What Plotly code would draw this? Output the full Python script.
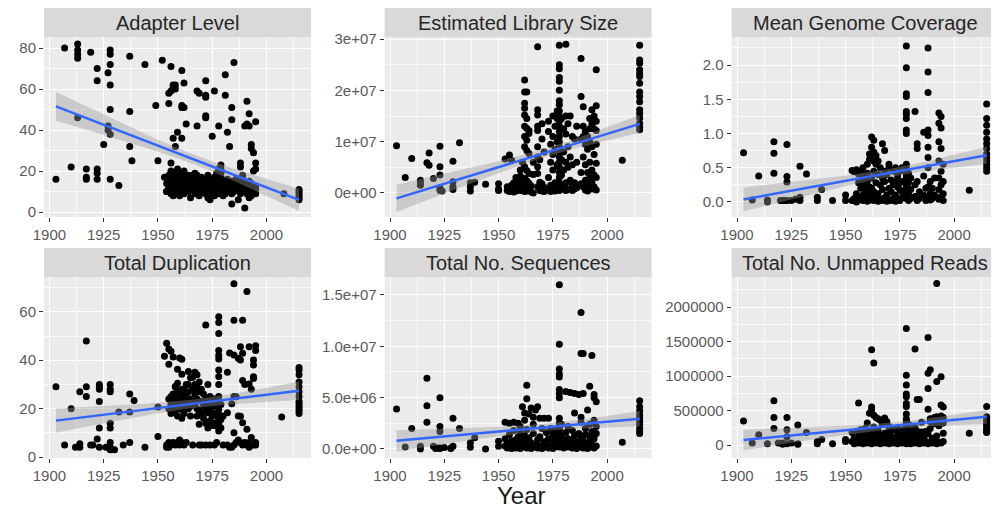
import numpy as np
import plotly.graph_objects as go

# ---------------- data ----------------
ADAPTER_YEAR = [
    1903, 1907, 1910, 1913, 1913, 1913, 1913, 1913,
    1917, 1917, 1917, 1919, 1922, 1922, 1922, 1922, 1922,
    1925, 1927, 1927, 1927, 1928, 1928, 1928, 1928, 1928, 1928, 1928,
    1932, 1937, 1937, 1937, 1938, 1944, 1949, 1950,
    1952, 1953, 1954, 1955, 1955, 1956, 1956, 1956, 1957, 1957, 1958, 1958,
    1957, 1958, 1959, 1961, 1961, 1962, 1961, 1962, 1961, 1963,
    1968, 1969, 1968, 1972, 1972, 1972, 1972, 1972, 1975, 1976, 1978,
    1979, 1979, 1979, 1981, 1981, 1982, 1983, 1985, 1984, 1984, 1988,
    1990, 1990, 1991, 1992, 1991, 1992, 1993, 1993, 1994, 1995, 1995, 1995, 1994,
    1989, 1987, 1984, 1992, 2008, 2015, 2015, 2015, 2015, 2015, 2015,
    1954, 1954, 1954, 1955, 1955, 1955, 1956, 1956, 1956, 1956,
    1957, 1957, 1957, 1957, 1958, 1958, 1958, 1958,
    1959, 1959, 1959, 1959, 1959, 1960, 1960, 1960, 1960, 1960, 1960,
    1961, 1961, 1961, 1961, 1962, 1962, 1962, 1962, 1963, 1963, 1963,
    1964, 1964, 1964, 1964, 1965, 1965, 1965, 1966, 1966, 1966,
    1967, 1967, 1967, 1967, 1968, 1968, 1968, 1968, 1969, 1969, 1969,
    1970, 1970, 1970, 1971, 1971, 1971, 1972, 1972, 1972,
    1973, 1973, 1973, 1973, 1974, 1974, 1974, 1974, 1975, 1975, 1975,
    1976, 1976, 1976, 1976, 1977, 1977, 1977, 1977,
    1978, 1978, 1978, 1978, 1978, 1978, 1979, 1979, 1979, 1979,
    1980, 1980, 1980, 1981, 1981, 1981, 1982, 1982, 1982, 1983, 1983,
    1984, 1984, 1984, 1985, 1985, 1986, 1986, 1987, 1987,
    1988, 1988, 1988, 1989, 1989, 1989, 1990, 1990, 1991, 1991,
    1992, 1992, 1992, 1993, 1993, 1993, 1994, 1994, 1995, 1995, 1995,
]
ADAPTER_VALUE = [
    16, 80, 22, 82, 79, 77, 75, 46,
    21, 17, 16, 78, 70, 64, 21, 19, 16,
    33, 68, 42, 40, 79, 77, 72, 62, 50, 38, 16,
    13, 76, 49, 32, 25, 72, 52, 25,
    74, 17, 10, 53, 58, 59, 71, 24, 62, 61, 62, 60,
    36, 32, 39, 51, 52, 51, 69, 63, 36, 43,
    59, 58, 42, 64, 57, 56, 47, 46, 37, 59, 42,
    23, 21, 19, 67, 57, 39, 32, 73, 51, 45, 24,
    2, 42, 43, 42, 54, 48, 33, 31, 29, 44, 24, 21, 20,
    18, 6, 4, 7, 9, 11, 10, 9, 8, 7, 6,
    17, 14, 10, 15, 12, 18, 16, 13, 9, 20,
    11, 15, 17, 8, 19, 14, 12, 16,
    13, 9, 18, 21, 15, 16, 14, 11, 19, 8, 17,
    15, 12, 18, 10, 17, 13, 20, 9, 14, 16, 11,
    12, 18, 15, 10, 16, 13, 7, 15, 11, 18,
    19, 14, 12, 9, 16, 13, 10, 18, 15, 12, 8,
    14, 17, 11, 13, 10, 16, 15, 12, 9,
    14, 11, 18, 7, 13, 16, 10, 6, 12, 15, 9,
    14, 11, 17, 8, 16, 13, 10, 19,
    15, 12, 18, 9, 21, 14, 13, 16, 10, 17,
    14, 11, 8, 12, 15, 9, 13, 10, 16, 11, 14,
    12, 9, 15, 10, 13, 12, 16, 11, 14,
    13, 9, 22, 12, 10, 16, 11, 14, 13, 9,
    12, 10, 15, 11, 14, 8, 10, 13, 12, 9, 11,
]

# Estimated Library Size (millions)
LIBRARY_YEAR = [
    1903, 1907, 1910, 1914, 1914, 1914, 1917, 1918, 1918, 1920,
    1923, 1923, 1923, 1923, 1923, 1924, 1929, 1929, 1929, 1929, 1932,
    1937, 1937, 1937, 1939, 1944, 1950, 1950, 1950, 1953, 1955, 1956,
    1962, 1962, 1962, 1962, 1962, 1962, 1962, 1962, 1962,
    1963, 1963, 1963, 1963, 1963, 1963, 1964, 1964, 1964, 1964,
    1954, 1954, 1955, 1955, 1956, 1956, 1957, 1957, 1957, 1958, 1958, 1958,
    1959, 1959, 1959, 1960, 1960, 1960, 1960, 1961, 1961, 1961,
    1962, 1962, 1962, 1963, 1963, 1963, 1964, 1964, 1965, 1965, 1966, 1966, 1966,
    1968, 1968, 1968, 1968, 1968, 1968, 1968, 1968, 1968, 1968,
    1969, 1969, 1969, 1969, 1970, 1970, 1970, 1970, 1971, 1971, 1971,
    1973, 1973, 1973, 1973, 1974, 1974, 1974, 1974,
    1975, 1975, 1975, 1975, 1975, 1976, 1976, 1976, 1976,
    1977, 1977, 1977, 1977, 1977,
    1978, 1978, 1978, 1978, 1978, 1978, 1978, 1978, 1978, 1978, 1978, 1978, 1978,
    1978, 1978, 1978, 1978, 1978, 1978, 1978, 1978, 1978, 1978, 1978, 1978,
    1979, 1979, 1979, 1979, 1980, 1980, 1980, 1980,
    1981, 1981, 1981, 1981, 1981, 1981, 1982, 1982, 1982, 1982,
    1983, 1983, 1983, 1984, 1984, 1984, 1984, 1985, 1985, 1985, 1986, 1986, 1986,
    1988, 1988, 1988, 1988, 1988, 1989, 1989, 1989, 1989, 1989,
    1990, 1990, 1990, 1990, 1990, 1991, 1991, 1991, 1991, 1991,
    1992, 1992, 1992, 1992, 1992, 1992, 1993, 1993, 1993, 1993, 1993, 1993, 1993,
    1994, 1994, 1994, 1994, 1994, 1995, 1995, 1995, 1995, 1995, 1995, 1995, 1995,
    2007, 2015, 2015, 2015, 2015, 2015, 2015, 2015, 2015,
    2015, 2015, 2015, 2015, 2015, 2015, 2015, 2015,
]
LIBRARY_VALUE = [
    9.2, 3.0, 6.7, 2.5, 2.0, 1.5, 5.9, 7.8, 5.4, 2.8,
    9.1, 5.1, 3.5, 1.0, 0.5, 0.4, 6.2, 2.2, 1.2, 0.7, 9.8,
    2.0, 1.2, 0.4, 2.1, 1.7, 1.8, 0.8, 0.5, 6.6, 7.4, 6.4,
    22.0, 19.7, 17.5, 16.5, 15.2, 13.0, 11.0, 9.0, 5.1,
    19.7, 14.5, 12.6, 10.3, 8.3, 4.4, 12.2, 11.6, 7.7, 3.8,
    1.2, 0.5, 0.8, 0.3, 1.5, 0.6, 0.9, 0.2, 2.0, 1.2, 0.4, 3.0,
    0.7, 1.8, 2.6, 0.5, 1.3, 3.3, 4.5, 0.9, 2.2, 6.0,
    0.3, 1.6, 2.8, 1.0, 0.4, 2.4, 0.6, 1.9, 0.2, 1.4, 0.0, 3.6, 6.0,
    28.5, 16.2, 15.2, 13.0, 12.2, 9.0, 7.0, 5.1, 3.8, 1.2,
    2.1, 0.8, 0.5, 6.5, 13.5, 10.5, 0.4, 1.8, 1.1, 0.3, 8.0,
    14.0, 12.0, 3.0, 0.6, 9.5, 6.0, 1.5, 0.3,
    15.0, 11.0, 7.5, 4.5, 1.0, 13.0, 8.5, 2.0, 0.4,
    16.0, 14.5, 10.0, 5.5, 1.2,
    28.8, 25.0, 24.2, 22.5, 21.8, 20.0, 18.0, 17.2, 16.0, 15.0, 14.0, 13.0, 12.0,
    11.0, 10.0, 9.0, 8.0, 7.0, 6.0, 5.0, 4.0, 3.0, 2.0, 1.0, 0.5,
    14.5, 6.5, 3.5, 0.8, 12.5, 8.0, 4.5, 1.5,
    29.0, 15.0, 11.5, 6.0, 2.0, 0.5, 13.5, 9.0, 5.0, 0.7,
    15.0, 7.0, 2.5, 11.0, 5.5, 1.5, 0.5, 10.5, 2.0, 0.8, 13.0, 6.0, 1.0,
    26.2, 18.8, 10.5, 4.0, 1.8, 16.8, 13.0, 11.0, 7.0, 1.2,
    12.0, 9.5, 5.5, 2.5, 0.6, 11.0, 8.5, 4.0, 1.8, 0.4,
    14.5, 12.5, 10.0, 6.0, 3.0, 1.0, 16.2, 13.5, 12.6, 9.0, 4.5, 2.0, 0.8,
    15.0, 12.5, 7.5, 3.5, 1.2, 24.0, 17.0, 14.0, 12.2, 9.5, 5.8, 3.0, 0.6,
    6.4, 28.8, 25.9, 25.3, 24.0, 23.3, 22.7, 21.4, 19.7,
    18.8, 17.8, 16.2, 15.5, 14.6, 13.6, 12.9, 12.3,
]

COVERAGE_YEAR = [
    1903, 1907, 1910, 1914, 1914, 1917, 1917, 1917, 1920, 1921, 1922,
    1923, 1923, 1923, 1923, 1925, 1927, 1929, 1929, 1929, 1932,
    1937, 1937, 1939, 1944, 1950, 1950,
    1953, 1953, 1954, 1954, 1955, 1955, 1955, 1956, 1956, 1956,
    1957, 1957, 1957, 1958, 1958, 1958, 1958, 1959, 1959, 1959, 1959,
    1960, 1960, 1960, 1960, 1960, 1960, 1961, 1961, 1961, 1961, 1961,
    1962, 1962, 1962, 1962, 1962, 1962, 1963, 1963, 1963, 1963, 1963, 1963,
    1964, 1964, 1964, 1964, 1965, 1965, 1965, 1965, 1966, 1966, 1966,
    1967, 1967, 1967, 1967, 1968, 1968, 1968, 1968, 1969, 1969, 1969,
    1970, 1970, 1970, 1970, 1971, 1971, 1971, 1972, 1972, 1972,
    1973, 1973, 1973, 1973, 1974, 1974, 1974, 1975, 1975, 1975, 1975,
    1976, 1976, 1976, 1976,
    1978, 1978, 1978, 1978, 1978, 1978, 1978, 1978, 1978, 1978,
    1978, 1978, 1978, 1978, 1978, 1978, 1978, 1978, 1978, 1978,
    1979, 1979, 1979, 1979, 1980, 1980, 1980, 1982, 1982, 1982,
    1983, 1983, 1983, 1983, 1984, 1984, 1986, 1986, 1986, 1987, 1987,
    1988, 1988, 1988, 1988, 1988, 1988, 1988, 1988, 1988, 1988,
    1989, 1989, 1989, 1990, 1990, 1991, 1991,
    1993, 1993, 1993, 1993, 1993, 1993, 1993,
    1994, 1994, 1994, 1994, 1994, 1994,
    1995, 1995, 1995, 1995,
    2007, 2015, 2015, 2015, 2015, 2015, 2015, 2015, 2015, 2015, 2015, 2015, 2015, 2015,
]
COVERAGE_VALUE = [
    0.72, 0.03, 0.38, 0.03, 0.00, 0.88, 0.71, 0.42, 0.02, 0.02, 0.02,
    0.84, 0.37, 0.29, 0.02, 0.02, 0.04, 0.52, 0.07, 0.02, 0.41,
    0.07, 0.02, 0.18, 0.02, 0.10, 0.02,
    0.02, 0.46, 0.05, 0.44, 0.00, 0.12, 0.47, 0.03, 0.28, 0.41,
    0.06, 0.20, 0.45, 0.02, 0.10, 0.33, 0.50, 0.04, 0.18, 0.25, 0.38,
    0.01, 0.08, 0.15, 0.30, 0.42, 0.55, 0.03, 0.12, 0.22, 0.62, 0.70,
    0.05, 0.20, 0.35, 0.66, 0.80, 0.95, 0.02, 0.15, 0.45, 0.60, 0.73, 0.90,
    0.08, 0.28, 0.55, 0.68, 0.01, 0.12, 0.40, 0.60, 0.04, 0.25, 0.50,
    0.02, 0.18, 0.35, 0.85, 0.06, 0.30, 0.75, 0.45, 0.01, 0.10, 0.40,
    0.03, 0.20, 0.55, 0.50, 0.02, 0.15, 0.32, 0.05, 0.25, 0.45,
    0.01, 0.10, 0.30, 0.50, 0.04, 0.22, 0.38, 0.02, 0.18, 0.28, 0.45,
    0.06, 0.30, 0.50, 0.15,
    2.28, 1.96, 1.58, 1.54, 1.32, 1.28, 1.22, 1.05, 1.00, 0.55,
    0.50, 0.45, 0.40, 0.35, 0.30, 0.25, 0.20, 0.15, 0.10, 0.05,
    0.42, 0.28, 0.12, 0.02, 0.35, 0.18, 0.05, 1.32, 0.25, 0.08,
    0.85, 0.78, 0.30, 0.02, 0.15, 0.05, 1.02, 0.38, 0.10, 0.20, 0.02,
    2.25, 1.90, 1.60, 1.05, 0.97, 0.80, 0.65, 0.50, 0.22, 0.08,
    0.30, 0.12, 0.03, 0.20, 0.05, 0.35, 0.10,
    1.30, 1.15, 0.88, 0.60, 0.35, 0.18, 0.04,
    1.25, 1.08, 0.78, 0.45, 0.25, 0.08,
    0.55, 0.30, 0.12, 0.02,
    0.17, 1.43, 1.22, 1.12, 1.02, 0.92, 0.85, 0.78, 0.70, 0.65, 0.60, 0.55, 0.50, 0.45,
]

DUPLICATION_YEAR = [
    1903, 1907, 1910, 1914, 1914, 1914, 1917, 1917, 1917, 1919, 1922,
    1923, 1923, 1923, 1923, 1923, 1923, 1912, 1920, 1926, 1930, 1934,
    1928, 1928, 1928, 1928, 1928, 1928, 1928, 1928,
    1932, 1937, 1937, 1937, 1939, 1944, 1950, 1950, 1954,
    1955, 1956, 1953, 1957, 1960, 1961, 1955, 1959, 1964, 1961, 1965, 1959, 1958, 1964, 1962,
    1955, 1955, 1956, 1956, 1956, 1957, 1957, 1958, 1958, 1958,
    1959, 1959, 1959, 1960, 1960, 1960, 1961, 1961, 1961, 1961,
    1962, 1962, 1962, 1963, 1963, 1963, 1964, 1964, 1964, 1965, 1965, 1965,
    1966, 1966, 1966, 1967, 1967, 1967, 1967, 1968, 1968, 1968, 1968, 1968,
    1969, 1969, 1969, 1969, 1970, 1970, 1970, 1971, 1971, 1971,
    1972, 1972, 1972, 1972, 1973, 1973, 1973, 1973, 1974, 1974, 1974,
    1975, 1975, 1975, 1976, 1976, 1976, 1976, 1977, 1977, 1977,
    1954, 1954, 1955, 1955, 1956, 1957, 1958, 1959, 1960, 1960,
    1961, 1962, 1963, 1966, 1969, 1970, 1972, 1974, 1976, 1977,
    1978, 1978, 1978, 1978, 1978, 1978, 1978, 1978, 1978,
    1978, 1978, 1978, 1978, 1978, 1978, 1978, 1978,
    1979, 1979, 1979, 1980, 1980, 1982, 1982, 1982, 1983, 1983, 1984, 1984,
    1985, 1985, 1985, 1985, 1985, 1985, 1986, 1986, 1987, 1987, 1987,
    1988, 1988, 1988, 1988, 1989, 1989, 1989, 1989, 1989, 1990, 1990,
    1991, 1991, 1991, 1992, 1992, 1992, 1992, 1993, 1993, 1993,
    1994, 1994, 1994, 1994, 1994, 1995, 1995, 1995, 1995, 2007,
    2015, 2015, 2015, 2015, 2015, 2015, 2015, 2015, 2015, 2015, 2015, 2015, 2015,
]
DUPLICATION_VALUE = [
    29, 5, 20, 27, 5.5, 4, 48, 29, 25, 5, 7.5,
    30, 29, 28, 23, 4, 12, 4, 5, 4, 3, 5,
    30, 28, 27, 14, 12, 6, 4, 3,
    18.6, 26, 18.6, 6, 23.4, 4, 20.7, 8.5, 47,
    44.6, 43.7, 41.6, 41.3, 40.9, 40.4, 38.3, 36.3, 35.3, 34.2, 32.8, 30.5, 29.1, 30, 27.7,
    24, 20, 25, 22, 18, 26, 21, 29, 24, 19,
    27, 23, 17, 25, 22, 20, 28, 24, 19.6, 16,
    26, 21, 18, 30, 25, 22, 27, 23, 20, 24, 21, 17,
    33, 28, 23, 35, 30, 26, 22, 34, 29, 24, 17, 20,
    31, 27, 13.5, 19, 28, 23, 18, 26, 16, 21,
    54.6, 24, 19, 14, 30, 22, 18.3, 12, 25, 20, 15,
    23, 16.9, 13, 24, 21, 18, 14, 22, 12.8, 17,
    5, 4, 6, 4, 5, 6, 5, 6, 5, 7,
    6, 5, 6, 5, 5, 5, 5, 5, 5, 6,
    58, 55.6, 51, 44, 42, 40.5, 36, 33.3, 30,
    25, 23, 21, 19.6, 17.6, 15.5, 13.5, 10.8,
    15.5, 21.7, 12, 17, 5, 18.3, 35, 5, 43, 4, 22, 4,
    71.6, 56.5, 42.2, 25, 10, 5, 24.9, 6, 40.8, 17, 7,
    45.6, 40.1, 16.9, 6, 56.5, 42.9, 31.6, 14.2, 5, 30, 6,
    68.4, 11.5, 5, 45.6, 30.2, 6, 4, 28, 8.1, 5,
    40.1, 38, 33.2, 32.5, 5, 46, 44, 5, 6, 16.5,
    37, 36, 34, 31, 29, 27, 25, 23, 22, 21, 20, 19, 18,
]

# Total No. Sequences (millions)
SEQUENCES_YEAR = [
    1903, 1907, 1910, 1914, 1914, 1917, 1917, 1917, 1920, 1921, 1922,
    1923, 1923, 1923, 1923, 1923, 1925, 1928, 1928, 1929, 1929, 1932,
    1937, 1937, 1939, 1944, 1950, 1950,
    1963, 1963, 1961, 1965, 1968, 1962, 1966, 1969, 1971, 1973,
    1953, 1955, 1957, 1959, 1960, 1962, 1964, 1966, 1967, 1970,
    1953, 1953, 1954, 1954, 1955, 1955, 1956, 1956, 1957, 1957, 1958, 1958,
    1959, 1959, 1960, 1960, 1960, 1961, 1961, 1962, 1962, 1963, 1963, 1963,
    1964, 1964, 1965, 1965, 1966, 1966, 1967, 1968, 1968, 1969, 1969, 1970,
    1971, 1971, 1972, 1972, 1973, 1973, 1974, 1974, 1975, 1975, 1975,
    1976, 1976, 1976, 1977, 1977,
    1978, 1978, 1978, 1978, 1978, 1978, 1978, 1978, 1978, 1978,
    1978, 1978, 1978, 1978, 1978, 1978, 1978, 1978, 1978,
    1988, 1988, 1989, 1993, 1981, 1983, 1985, 1987, 1989,
    1992, 1994, 1994, 1995, 1985, 1988, 1991,
    1979, 1979, 1979, 1980, 1980, 1981, 1981, 1982, 1982, 1982, 1983,
    1984, 1984, 1984, 1985, 1985, 1986, 1986, 1987, 1987,
    1988, 1988, 1988, 1989, 1989, 1990, 1990, 1990, 1991, 1991,
    1992, 1992, 1992, 1993, 1993, 1993, 1994, 1994, 1994, 1995, 1995, 1995,
    2007, 2015, 2015, 2015, 2015, 2015, 2015, 2015, 2015, 2015, 2015,
]
SEQUENCES_VALUE = [
    3.9, 0.2, 2.0, 0.26, 0.0, 6.9, 4.2, 2.6, 0.26, 0.05, 0.1,
    5.0, 2.2, 1.7, 0.1, 0.05, 0.15, 0.1, 0.05, 3.0, 0.26, 2.0,
    0.6, 0.16, 1.1, 0.0, 0.75, 0.26,
    6.2, 4.9, 4.1, 4.0, 4.1, 3.5, 3.1, 3.0, 3.0, 3.0,
    2.6, 2.5, 2.6, 2.5, 2.2, 2.8, 3.4, 2.4, 3.8, 2.0,
    0.3, 1.0, 0.1, 0.6, 0.2, 1.4, 0.05, 0.8, 0.4, 1.8, 0.1, 0.9,
    0.3, 1.2, 0.05, 0.7, 1.6, 0.2, 1.0, 0.4, 1.3, 0.1, 0.8, 1.9,
    0.3, 1.1, 0.05, 0.6, 0.2, 1.5, 0.4, 0.1, 0.9, 0.3, 1.2, 0.05,
    0.2, 0.7, 0.4, 1.6, 0.1, 1.0, 0.3, 2.0, 0.05, 0.6, 1.4,
    0.2, 1.1, 1.8, 0.4, 0.9,
    16.0, 10.2, 7.8, 7.3, 7.0, 5.8, 5.4, 5.0, 3.0, 2.5,
    2.2, 2.0, 1.8, 1.5, 1.2, 1.0, 0.7, 0.4, 0.2,
    13.3, 9.3, 9.3, 9.1, 5.6, 5.5, 5.4, 5.3, 5.4,
    6.1, 5.3, 5.0, 4.6, 3.5, 3.1, 3.8,
    0.3, 1.2, 2.4, 0.1, 0.8, 0.5, 1.6, 0.2, 1.0, 2.2, 0.4,
    0.1, 0.9, 1.8, 0.3, 1.3, 0.05, 0.7, 0.2, 1.5,
    0.4, 1.1, 2.6, 0.1, 0.8, 0.3, 1.4, 2.0, 0.05, 0.6,
    0.2, 1.2, 2.4, 0.4, 0.9, 1.7, 0.1, 1.0, 2.8, 0.3, 1.5, 2.2,
    0.65, 4.7, 4.1, 3.7, 3.3, 3.0, 2.7, 2.4, 2.0, 1.7, 1.5,
]

# Total No. Unmapped Reads (hundred thousands)
UNMAPPED_YEAR = [
    1903, 1907, 1910, 1914, 1917, 1917, 1917, 1919, 1921, 1921,
    1923, 1923, 1923, 1923, 1925, 1928, 1928, 1928, 1932,
    1937, 1937, 1939, 1944, 1950, 1950, 1956, 1962, 1963,
    1962, 1962, 1961, 1963, 1964, 1965, 1966, 1968, 1960, 1967, 1969, 1970,
    1953, 1953, 1954, 1954, 1955, 1955, 1956, 1956, 1957, 1957, 1958, 1958,
    1959, 1959, 1959, 1960, 1960, 1961, 1961, 1962, 1962, 1963, 1963, 1963,
    1964, 1964, 1965, 1965, 1966, 1966, 1967, 1968, 1968, 1969, 1969, 1970, 1970,
    1971, 1971, 1972, 1972, 1973, 1973, 1974, 1974, 1974, 1975, 1975,
    1976, 1976, 1977, 1977,
    1978, 1978, 1978, 1978, 1978, 1978, 1978, 1978, 1978, 1978,
    1978, 1978, 1978, 1978, 1978, 1978, 1978, 1978, 1978, 1978,
    1982, 1983, 1984, 1988, 1989, 1988, 1992, 1994, 1988, 1988, 1992, 1994, 1995,
    1979, 1979, 1979, 1980, 1980, 1980, 1981, 1981, 1982, 1982, 1982,
    1983, 1983, 1984, 1984, 1985, 1985, 1985, 1986, 1986, 1987, 1987,
    1988, 1988, 1989, 1989, 1989, 1990, 1990, 1991, 1991,
    1992, 1992, 1992, 1993, 1993, 1994, 1994, 1995, 1995, 1995,
    1990, 1991, 1993, 1994, 1995, 1989, 1992,
    2007, 2015, 2015, 2015, 2015, 2015, 2015, 2015, 2015, 2015, 2015,
]
UNMAPPED_VALUE = [
    3.5, 0.3, 1.5, 0.2, 6.4, 4.0, 2.4, 0.3, 0.3, 0.1,
    4.0, 2.2, 1.2, 0.2, 0.3, 2.9, 0.2, 0.1, 1.8,
    0.5, 0.2, 0.8, 0.2, 0.8, 0.5, 6.1, 13.8, 11.9,
    5.5, 5.1, 4.6, 4.3, 4.0, 3.8, 3.6, 3.9, 3.2, 3.0, 3.4, 2.7,
    0.5, 1.8, 0.2, 1.0, 0.6, 2.0, 0.3, 1.2, 0.8, 2.2, 0.2, 1.5,
    0.5, 1.0, 2.4, 0.3, 1.6, 0.7, 2.0, 0.2, 1.3, 0.5, 1.8, 2.6,
    0.3, 1.1, 0.6, 2.1, 0.2, 1.4, 0.8, 0.3, 1.7, 0.5, 1.0, 0.2, 2.0,
    0.6, 1.3, 0.3, 2.2, 0.5, 1.0, 0.2, 1.6, 2.5, 0.7, 1.9,
    0.3, 1.2, 0.5, 2.3,
    16.9, 10.1, 8.7, 7.4, 7.0, 6.0, 5.6, 4.5, 3.8, 3.2,
    2.8, 2.4, 2.0, 1.7, 1.4, 1.1, 0.8, 0.5, 0.2, 3.5,
    13.9, 6.6, 6.6, 15.6, 10.9, 10.4, 9.2, 9.9, 8.2, 5.2, 23.4, 5.8, 5.5,
    0.4, 1.5, 3.0, 0.2, 1.0, 2.2, 0.6, 1.8, 0.3, 1.2, 2.6,
    0.5, 2.0, 0.2, 1.4, 0.7, 1.9, 3.3, 0.3, 1.1, 0.5, 2.0,
    0.2, 1.6, 0.4, 2.4, 3.8, 0.3, 1.0, 0.5, 3.1,
    0.2, 1.3, 3.5, 0.4, 2.8, 0.3, 3.6, 0.5, 1.7, 3.2,
    3.6, 4.0, 3.8, 4.2, 4.0, 3.4, 4.1,
    1.7, 5.6, 4.1, 3.8, 3.5, 3.2, 2.9, 2.6, 2.3, 2.0, 1.8,
]

PANEL_TITLES = ["Adapter Level", "Estimated Library Size", "Mean Genome Coverage",
                "Total Duplication", "Total No. Sequences", "Total No. Unmapped Reads"]
X_TICKS = [1900, 1925, 1950, 1975, 2000]

# ---------------- build ----------------
panels = [
    (ADAPTER_YEAR, ADAPTER_VALUE, 1.0, [-2.4, 85.4],
     [0, 20, 40, 60, 80], ["0", "20", "40", "60", "80"], [10, 30, 50, 70]),
    (LIBRARY_YEAR, LIBRARY_VALUE, 1e6, [-4.68e6, 3.04e7],
     [0, 1e7, 2e7, 3e7], ["0e+00", "1e+07", "2e+07", "3e+07"], [5e6, 1.5e7, 2.5e7]),
    (COVERAGE_YEAR, COVERAGE_VALUE, 1.0, [-0.22, 2.41],
     [0, 0.5, 1.0, 1.5, 2.0], ["0.0", "0.5", "1.0", "1.5", "2.0"], [0.25, 0.75, 1.25, 1.75, 2.25]),
    (DUPLICATION_YEAR, DUPLICATION_VALUE, 1.0, [-0.4, 74.4],
     [0, 20, 40, 60], ["0", "20", "40", "60"], [10, 30, 50, 70]),
    (SEQUENCES_YEAR, SEQUENCES_VALUE, 1e6, [-0.88e6, 1.675e7],
     [0, 5e6, 1e7, 1.5e7], ["0.0e+00", "5.0e+06", "1.0e+07", "1.5e+07"], [2.5e6, 7.5e6, 1.25e7]),
    (UNMAPPED_YEAR, UNMAPPED_VALUE, 1e5, [-1.88e5, 2.435e6],
     [0, 5e5, 1e6, 1.5e6, 2e6], ["0", "500000", "1000000", "1500000", "2000000"],
     [2.5e5, 7.5e5, 1.25e6, 1.75e6, 2.25e6]),
]

# The page body has an 8px margin, so the figure is 991x500 drawn from (8, 8).
W, H, OFF = 991, 500, 8


def px_x(p):
    return (p - OFF) / W


def px_y(p):
    return 1 - (p - OFF) / H


col_dom = [(px_x(44), px_x(311)), (px_x(384.6), px_x(651.6)), (px_x(731.6), px_x(998.6))]
row_dom = [(px_y(217), px_y(37)), (px_y(458), px_y(277))]
strip_h = 29 / H

FONT = "Liberation Sans, Arial, Helvetica, sans-serif"
tick_font = dict(family=FONT, size=15, color="#5a5a5a")

fig = go.Figure()
layout = {}
shapes = []
annotations = []

for i, (yrs, vals, scale, yr, tv, tt, minor) in enumerate(panels):
    assert len(yrs) == len(vals), (PANEL_TITLES[i], len(yrs), len(vals))
    r, c = divmod(i, 3)
    sfx = "" if i == 0 else str(i + 1)
    xa, ya = "x" + sfx, "y" + sfx
    x = np.asarray(yrs, dtype=float)
    y = np.asarray(vals, dtype=float) * scale

    # linear fit with 95% confidence band (as geom_smooth(method="lm"))
    n = len(x)
    xm, ym = x.mean(), y.mean()
    sxx = ((x - xm) ** 2).sum()
    b = ((x - xm) * (y - ym)).sum() / sxx
    a = ym - b * xm
    s = np.sqrt(((y - (a + b * x)) ** 2).sum() / (n - 2))
    xs = np.linspace(x.min(), x.max(), 80)
    fit = a + b * xs
    se = s * np.sqrt(1.0 / n + (xs - xm) ** 2 / sxx)
    lo, hi = fit - 1.97 * se, fit + 1.97 * se

    fig.add_trace(go.Scatter(x=x, y=y, mode="markers", xaxis=xa, yaxis=ya,
                             marker=dict(color="black", size=7, line=dict(width=0)),
                             showlegend=False, hoverinfo="skip"))
    fig.add_trace(go.Scatter(x=np.concatenate([xs, xs[::-1]]),
                             y=np.concatenate([hi, lo[::-1]]),
                             mode="lines", fill="toself", line=dict(width=0),
                             fillcolor="rgba(153,153,153,0.4)", xaxis=xa, yaxis=ya,
                             showlegend=False, hoverinfo="skip"))
    fig.add_trace(go.Scatter(x=xs, y=fit, mode="lines", xaxis=xa, yaxis=ya,
                             line=dict(color="#3366FF", width=2.5),
                             showlegend=False, hoverinfo="skip"))

    xd, yd = col_dom[c], row_dom[r]
    layout["xaxis" + sfx] = dict(
        domain=list(xd), anchor=ya, range=[1897.5, 2020.5], automargin=False,
        tickmode="array", tickvals=X_TICKS, ticktext=[str(v) for v in X_TICKS],
        ticks="outside", ticklen=4, tickwidth=1, tickcolor="#333333",
        tickfont=tick_font, showgrid=True, gridcolor="white", gridwidth=1.2,
        zeroline=False, showline=False,
        minor=dict(tickmode="array", tickvals=[1912.5, 1937.5, 1962.5, 1987.5, 2012.5],
                   showgrid=True, gridcolor="rgba(255,255,255,0.7)", gridwidth=0.6, ticks=""),
    )
    layout["yaxis" + sfx] = dict(
        domain=list(yd), anchor=xa, range=yr, automargin=False,
        tickmode="array", tickvals=tv, ticktext=tt,
        ticks="outside", ticklen=4, tickwidth=1, tickcolor="#333333",
        tickfont=tick_font, showgrid=True, gridcolor="white", gridwidth=1.2,
        zeroline=False, showline=False,
        minor=dict(tickmode="array", tickvals=minor, showgrid=True,
                   gridcolor="rgba(255,255,255,0.7)", gridwidth=0.6, ticks=""),
    )
    # facet strip
    shapes.append(dict(type="rect", xref="paper", yref="paper",
                       x0=xd[0], x1=xd[1], y0=yd[1], y1=min(yd[1] + strip_h, 1.0),
                       fillcolor="#D9D9D9", line=dict(width=0), layer="below"))
    annotations.append(dict(text=PANEL_TITLES[i], xref="paper", yref="paper",
                            x=(xd[0] + xd[1]) / 2, y=yd[1] + strip_h / 2,
                            xanchor="center", yanchor="middle", showarrow=False,
                            font=dict(family=FONT, size=20, color="#262626")))

annotations.append(dict(text="Year", xref="paper", yref="paper",
                        x=px_x(521), y=px_y(495), xanchor="center", yanchor="middle",
                        showarrow=False, borderpad=0,
                        font=dict(family=FONT, size=24, color="#1a1a1a")))

fig.update_layout(
    width=W, height=H, margin=dict(l=0, r=0, t=0, b=0),
    paper_bgcolor="white", plot_bgcolor="#EBEBEB",
    shapes=shapes, annotations=annotations, showlegend=False,
    **layout,
)

fig.write_html("out.html")
